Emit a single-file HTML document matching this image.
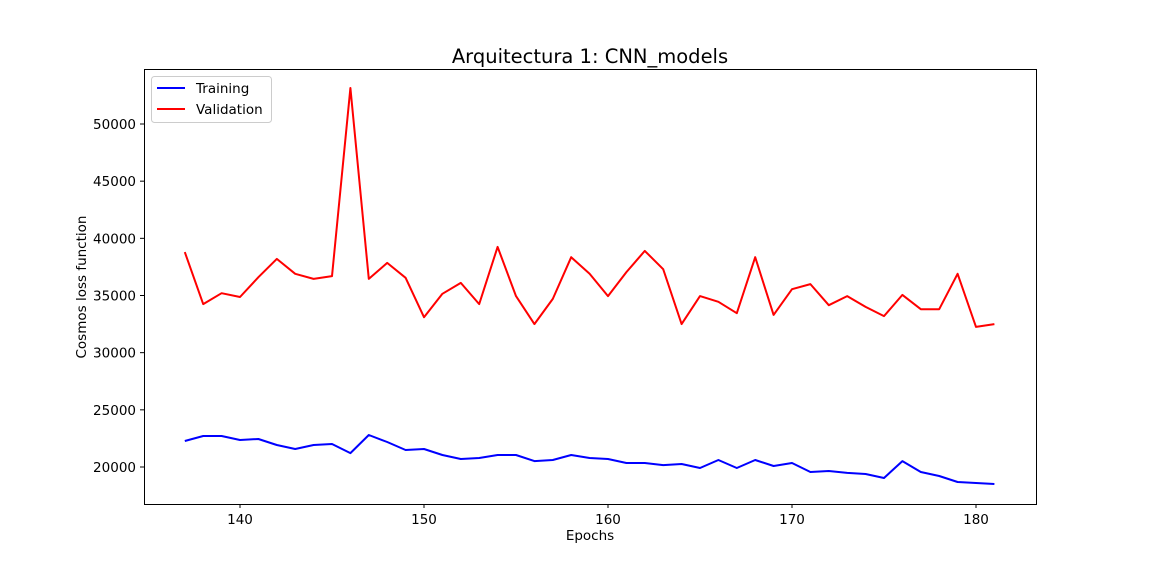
<!DOCTYPE html>
<html><head><meta charset="utf-8"><style>
body{margin:0;background:#fff;}
svg{display:block;font-family:"DejaVu Sans","Liberation Sans",sans-serif;}
</style></head><body>
<svg id="chart" width="1152" height="576"></svg>
<script>
const epochs = [];
for (let e = 137; e <= 181; e++) epochs.push(e);
const trainingLoss = [22270,22710,22710,22360,22450,21920,21570,21920,22010,21220,22800,22190,21490,21570,21050,20700,20790,21050,21050,20520,20610,21050,20790,20700,20350,20350,20170,20260,19910,20610,19910,20610,20090,20350,19560,19650,19480,19390,19040,20520,19560,19210,18690,18600,18510];
const validationLoss = [38800,34250,35200,34870,36600,38200,36900,36450,36700,53150,36450,37850,36550,33100,35150,36100,34250,39250,34950,32500,34700,38350,36900,34950,37050,38900,37300,32500,34950,34450,33450,38350,33300,35550,36000,34150,34950,34000,33200,35050,33800,33800,36900,32250,32500];
const xTicks = [140,150,160,170,180];
const yTicks = [20000,25000,30000,35000,40000,45000,50000];

const NS = "http://www.w3.org/2000/svg";
const svg = document.getElementById('chart');
const L=144,R=1036,T=69,B=504;
const xs = v => 240 + (v-140)*18.4;
const ys = v => 467 - (v-20000)*(343/30000);
function mk(tag, attrs, parent){const e=document.createElementNS(NS,tag);for(const k in attrs)e.setAttribute(k,attrs[k]);(parent||svg).appendChild(e);return e;}

const title = mk('text',{x:590,y:63,'text-anchor':'middle','font-size':19.5,fill:'#000'});
title.textContent='Arquitectura 1: CNN_models';



xTicks.forEach(t=>{
  const x=xs(t);
  const ln=mk('line',{x1:x,x2:x,y1:B,y2:B+4,stroke:'#000','stroke-width':1});
  
  
  const tx=mk('text',{x:x,y:B+20,'text-anchor':'middle','font-size':13.5});
  tx.textContent=t;
  
  
});
yTicks.forEach(t=>{
  const y=ys(t);
  const ln=mk('line',{x1:L-4,x2:L,y1:y,y2:y,stroke:'#000','stroke-width':1});
  
  
  const tx=mk('text',{x:L-8,y:y+5,'text-anchor':'end','font-size':13.5});
  tx.textContent=t;
  
  
});

function series(vals,color,name){
  const pts=vals.map((v,i)=>xs(epochs[i]).toFixed(1)+','+ys(v).toFixed(1)).join(' ');
  const p=mk('polyline',{points:pts,fill:'none',stroke:color,'stroke-width':2,'stroke-linejoin':'round'});
  
  
}
series(trainingLoss,'#0000ff','training-line');
series(validationLoss,'#ff0000','validation-line');

const frame=mk('rect',{x:L+0.5,y:T+0.5,width:R-L,height:B-T,fill:'none',stroke:'#000','stroke-width':1});



const xl=mk('text',{x:590,y:540,'text-anchor':'middle','font-size':13.5});
xl.textContent='Epochs';


const yl=mk('text',{x:86,y:287,'text-anchor':'middle','font-size':13.5,transform:'rotate(-90 86 287)'});
yl.textContent='Cosmos loss function';



const lg=mk('g',{});


mk('rect',{x:151.5,y:76.5,width:120,height:46,rx:3,fill:'#fff',stroke:'#ccc','stroke-width':1},lg);
[['Training','#0000ff',88],['Validation','#ff0000',109]].forEach(([n,c,y])=>{
  const e=mk('g',{},lg);
  
  
  mk('line',{x1:157,x2:185,y1:y,y2:y,stroke:c,'stroke-width':2},e);
  const t=mk('text',{x:196,y:y+5,'font-size':13.5},e);
  t.textContent=n;
});
</script>
</body></html>
